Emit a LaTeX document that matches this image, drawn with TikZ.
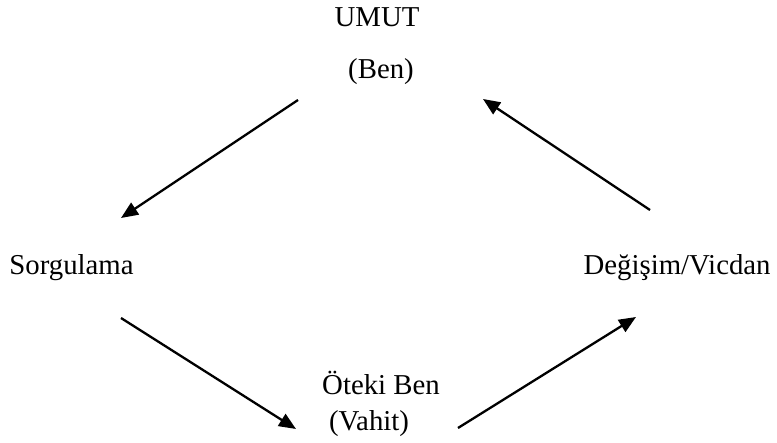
\documentclass[tikz,border=0pt]{standalone}
\usepackage{fontspec}
\setmainfont{Liberation Serif}
\usetikzlibrary{arrows.meta}
\begin{document}
\begin{tikzpicture}[x=0.5pt,y=-0.5pt,
  lbl/.style={inner sep=0pt,font=\fontsize{14.4}{17}\selectfont},
  arr/.style={line width=1.15pt,-{Triangle[length=8.5pt,width=7pt]}}]
\useasboundingbox (0,0) rectangle (777,443);
\node[lbl] (umut) at (377,17) {UMUT};
\node[lbl] (ben) at (381,72) {(Ben)};
\node[lbl,anchor=west] (sorg) at (9,268) {Sorgulama};
\node[lbl,anchor=east] (deg) at (771,268) {Değişim/Vicdan};
\node[lbl] (oteki) at (381,383) {Öteki Ben};
\node[lbl] (vahit) at (369,424) {(Vahit)};
\coordinate (a1s) at (298,100);
\coordinate (a1e) at (121,218);
\coordinate (a2s) at (121,318);
\coordinate (a2e) at (296,429);
\coordinate (a3s) at (458,428);
\coordinate (a3e) at (636,317);
\coordinate (a4s) at (650,210);
\coordinate (a4e) at (483,99);
\draw[arr] (a1s) -- (a1e);
\draw[arr] (a2s) -- (a2e);
\draw[arr] (a3s) -- (a3e);
\draw[arr] (a4s) -- (a4e);
\end{tikzpicture}
\end{document}
